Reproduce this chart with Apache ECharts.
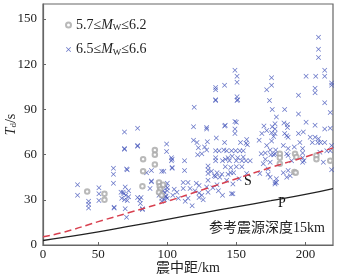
<!DOCTYPE html>
<html>
<head>
<meta charset="utf-8">
<title></title>
<script type="text/javascript" src="https://cdn.jsdelivr.net/npm/echarts@6/dist/echarts.min.js"></script>
<style>
body { margin: 0; background: #fff; }
#root { width: 337px; height: 279px; }
</style>
</head>
<body>
<div id="root"></div>
<script type="text/javascript">
// axis ticks (the figure labels its left edge, 10 km, as "0")
var xTicks = [10, 50, 100, 150, 200];
var xTickLabels = ['0', '50', '100', '150', '200'];
var yTicks = [0, 30, 60, 90, 120, 150];

// theoretical travel time curves
var lineX = [10, 25, 50, 75, 100, 125, 150, 175, 200, 220];
var sWave = [5.5, 8.5, 15.5, 22.2, 29, 36.5, 44, 51.5, 58.5, 64.5];
var pWave = [3, 5, 8.7, 12.8, 17, 21.2, 25.3, 29.4, 33.6, 37.5];

// 5.7 <= Mw <= 6.2
var lowMw = [
    [42, 35.5], [54.5, 34], [54.5, 30], [82.5, 57], [82.5, 49], [82, 39],
    [91, 63], [91, 60], [91, 53.5], [94, 41.5], [94.5, 39], [95, 37], [94, 35],
    [96, 33], [97, 40], [181.5, 60.5], [181.5, 58], [181.5, 54], [192.5, 60.5],
    [193.5, 58.5], [208, 59.5], [208, 57], [218, 56], [192, 48.5], [193, 48]
];

// 6.5 <= Mw <= 6.6
var highMw = [
    [35, 40], [35, 33], [43, 29], [43, 27], [43, 24.5],
    [50.5, 38], [50.5, 34], [50.5, 29.5], [61, 51], [61, 47], [61, 41], [61.5, 25], [61.5, 24.5],
    [69, 75], [69, 64], [69, 63.5], [71, 50], [70.5, 50.5], [69.5, 38.5], [66.5, 35], [68, 35],
    [70, 33], [72, 32], [67, 31], [69, 30], [71, 29.5], [68.5, 34], [69.5, 24], [70.5, 18.5], [72, 36],
    [78.5, 77.5], [78.5, 66], [78.5, 65.5], [78.5, 31.5], [80, 30], [81, 31.5], [80.5, 27.5],
    [82, 24], [82, 23.5], [88.5, 49.5], [88.5, 42.5], [88.5, 42], [87.5, 37.5], [85, 48],
    [96, 49], [97.5, 49], [99.5, 67], [99.5, 62], [99, 39], [95, 34], [97, 33], [99, 32], [96, 31],
    [98, 30], [100, 31], [98, 35], [99, 32.5], [97, 36], [100, 41], [100, 38], [100, 36], [96, 29], [94, 33],
    [103, 58], [103, 56], [103.5, 57], [103.5, 51.5], [103.5, 51], [112.5, 56], [112.5, 49.5],
    [111.5, 41.5], [115, 41.5], [111.5, 37.5], [116.5, 37.5], [105, 37], [107, 35], [108, 31],
    [104, 33], [113, 29], [115, 31], [118, 26],
    [119.5, 91.5], [119, 78.5], [119, 69.5], [121.5, 68], [122.5, 64.5], [127, 65], [125, 60.5],
    [122, 60], [128.5, 77], [128.5, 78], [129, 68.5], [128.5, 63], [129.5, 52.5], [129.5, 50],
    [129.5, 47.5], [129.5, 43], [123, 39.5], [123, 34.5], [123, 31.5], [128.5, 38.5], [129.5, 35],
    [121, 41], [125, 33], [126, 30], [120, 36],
    [135, 104.5], [135, 103], [135, 96.5], [135, 96], [141.5, 106], [135.5, 71], [141.5, 68],
    [142, 79.5], [141.5, 79], [135, 62.5], [137.5, 62.5], [135, 58], [135, 56], [132, 49], [134, 46],
    [136, 48], [138, 45], [139.5, 47], [135, 45.5], [136, 40], [137, 36], [133, 38], [140, 33],
    [141, 63], [142, 57],
    [149, 116], [150.5, 112], [150.5, 108], [150.5, 98.5], [151, 96.5], [150.5, 96], [149, 82],
    [150, 81.5], [149, 77], [149, 74], [157.5, 70], [157, 67.5], [158, 66.5], [153, 68], [143, 62.5],
    [146.5, 62.5], [149.5, 62.5], [152.5, 62.5], [155, 62.5], [144, 58], [147, 59], [151, 58],
    [155, 58.5], [140, 56], [145, 56], [150, 56], [154, 56], [157, 56], [160, 56], [142, 52],
    [146, 51.5], [150, 52], [154, 52], [146, 48], [148, 48], [144, 47], [147.5, 40.5], [147.5, 34],
    [146.5, 34], [157.5, 47.5], [152, 44], [143, 43],
    [175.5, 111], [175.5, 106], [172, 103], [174, 96], [176, 90], [179, 85], [168.5, 74],
    [166.5, 69.5], [172, 76], [175.5, 74.5], [178, 77], [177, 72], [175.5, 69], [172, 66],
    [174.5, 63], [177, 60], [171, 57], [178.5, 63], [168, 60.5], [171, 61], [175, 60], [178, 60.5],
    [169.5, 54], [174.5, 55], [173, 50.5], [167, 47.5], [173, 47], [174.5, 45], [178, 41.5],
    [178, 40.5], [179, 41.5], [179, 44], [178, 80.5], [178, 74], [176, 78.5], [170, 79],
    [185, 90], [195, 87], [195, 99.5], [200.5, 112], [200.5, 81.5], [184.5, 81], [187, 80], [187, 78],
    [185, 74], [186.5, 72.5], [187.5, 71.5], [195, 74], [198.5, 75], [187.5, 64], [186.5, 60.5],
    [187.5, 59.5], [198, 64], [198, 61], [198, 58], [199, 56], [198, 55], [184, 48], [187.5, 49.5],
    [189, 46], [186.5, 45], [192, 65], [196, 68], [184, 66], [190, 56],
    [209.5, 138], [209.5, 130], [209.5, 124.5], [214, 116], [214, 112], [207.5, 112], [219, 107.5],
    [219, 106], [207, 104], [207, 101], [214, 94.5], [207, 79.5], [214, 77], [218, 77.5],
    [203.5, 71.5], [207, 71.5], [209.5, 70.5], [205, 68], [209, 68], [211, 68], [214, 68],
    [210.5, 61.5], [215.5, 62.5], [218, 62.5], [219, 66], [213, 55], [218, 88], [219, 50]
];

var serif = '"Liberation Serif", "Noto Sans CJK SC", serif';
var crossPath = 'path://M0,1 L1,0 L5,4 L9,0 L10,1 L6,5 L10,9 L9,10 L5,6 L1,10 L0,9 L4,5 Z';

function pairs(xs, ys) {
    return xs.map(function (x, i) { return [x, ys[i]]; });
}

var myChart = echarts.init(document.getElementById('root'));
var option = {
    animation: false,
    grid: {
        left: 43, right: 4, top: 4, bottom: 34,
        outerBoundsMode: 'none',
        containLabel: false,
        show: true, borderColor: '#666', borderWidth: 1.2
    },
    legend: {
        orient: 'vertical',
        left: 60, top: 13,
        itemWidth: 5, itemHeight: 5, itemGap: 10,
        data: ['5.7≤Mw≤6.2', '6.5≤Mw≤6.6'],
        formatter: function (name) {
            return name.replace('Mw', '{i|M}{s|W}');
        },
        textStyle: {
            fontFamily: serif, fontSize: 14, color: '#222',
            rich: {
                i: { fontFamily: serif, fontSize: 14, fontStyle: 'italic', color: '#222' },
                s: { fontFamily: serif, fontSize: 9, color: '#222', verticalAlign: 'bottom', padding: [6, 0, 0, 0] }
            }
        }
    },
    xAxis: {
        type: 'value',
        min: 10, max: 220,
        name: '震中距/km',
        nameLocation: 'middle',
        nameGap: 16,
        nameMoveOverlap: false,
        nameTextStyle: { fontFamily: serif, fontSize: 14, color: '#222' },
        splitLine: { show: false },
        axisLine: { lineStyle: { color: '#666', width: 1.2 } },
        axisTick: { inside: true, length: 3, customValues: xTicks, lineStyle: { color: '#666' } },
        axisLabel: {
            customValues: xTicks,
            margin: 3,
            fontFamily: serif, fontSize: 13, color: '#222',
            formatter: function (v) { return xTickLabels[xTicks.indexOf(v)]; }
        }
    },
    yAxis: {
        type: 'value',
        min: 0, max: 160,
        name: '{i|T}{s|d}/s',
        nameLocation: 'middle',
        nameGap: 25,
        nameMoveOverlap: false,
        nameRotate: 90,
        nameTextStyle: {
            fontFamily: serif, fontSize: 14, color: '#222',
            rich: {
                i: { fontFamily: serif, fontSize: 14, fontStyle: 'italic', color: '#222' },
                s: { fontFamily: serif, fontSize: 9, color: '#222', verticalAlign: 'bottom', padding: [5, 0, 0, 0] }
            }
        },
        splitLine: { show: false },
        axisLine: { show: true, lineStyle: { color: '#666', width: 1.2 } },
        axisTick: { show: true, inside: true, length: 3, customValues: yTicks, lineStyle: { color: '#666' } },
        axisLabel: {
            customValues: yTicks,
            margin: 6,
            fontFamily: serif, fontSize: 13, color: '#222'
        }
    },
    series: [{
        name: '6.5≤Mw≤6.6',
        type: 'scatter',
        symbol: crossPath,
        symbolSize: 5,
        itemStyle: { color: '#3d4fb8' },
        data: highMw
    }, {
        name: '5.7≤Mw≤6.2',
        type: 'scatter',
        symbol: 'emptyCircle',
        symbolSize: 4.5,
        itemStyle: { color: '#a8a8a8', borderWidth: 0.8 },
        data: lowMw
    }, {
        name: 'S',
        type: 'line',
        smooth: true,
        symbol: 'none',
        lineStyle: { color: '#d8404f', width: 1.5, type: [7, 4] },
        data: pairs(lineX, sWave)
    }, {
        name: 'P',
        type: 'line',
        smooth: true,
        symbol: 'none',
        lineStyle: { color: '#222', width: 1.3 },
        data: pairs(lineX, pWave)
    }],
    graphic: [
        { type: 'text', left: 244, top: 174, style: { text: 'S', font: '14px ' + serif, fill: '#111' } },
        { type: 'text', left: 278, top: 196, style: { text: 'P', font: '14px ' + serif, fill: '#111' } },
        { type: 'text', left: 209, top: 221, style: { text: '参考震源深度15km', font: '14px ' + serif, fill: '#222' } }
    ]
};
myChart.setOption(option);
</script>
</body>
</html>
